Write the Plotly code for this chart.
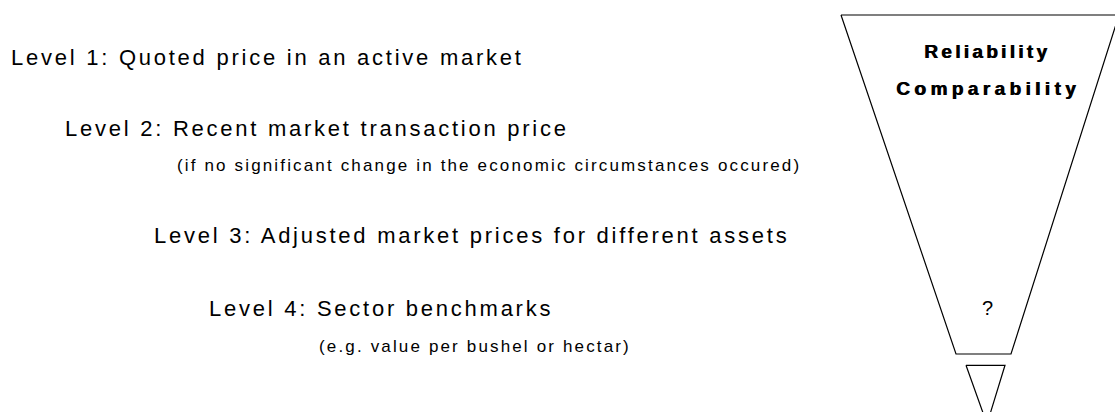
import plotly.graph_objects as go

# ---- content ----
level_labels = [
    "Level 1: Quoted price in an active market",
    "Level 2: Recent market transaction price",
    "Level 3: Adjusted market prices for different assets",
    "Level 4: Sector benchmarks",
]
level_notes = [
    "(if no significant change in the economic circumstances occured)",
    "(e.g. value per bushel or hectar)",
]
funnel_titles = ["Reliability", "Comparability"]
funnel_mark = "?"

# ---- layout geometry (pixel space of the 1115x412 canvas) ----
W, H = 1115, 412
level_x = [11, 65, 154, 209]
level_y = [57.5, 128, 235, 308]
note_x = [177, 319]
note_y = [165, 346]
title_x = [987, 988]
title_y = [51, 88]
title_spacing = [3.3, 4.4]

funnel_x = [841, 1119, 1011, 956, 841]
funnel_y = [15, 15, 354, 354, 15]
tip_x = [966, 1005, 987, 966]
tip_y = [365.3, 365.3, 424, 365.3]

FONT = "Liberation Sans, Arial, sans-serif"

fig = go.Figure()
fig.add_trace(go.Scatter(x=funnel_x, y=funnel_y, mode="lines",
                         line=dict(color="black", width=1.2),
                         hoverinfo="skip", showlegend=False))
fig.add_trace(go.Scatter(x=tip_x, y=tip_y, mode="lines",
                         line=dict(color="black", width=1.2),
                         hoverinfo="skip", showlegend=False))

annotations = []
for t, x, y in zip(level_labels, level_x, level_y):
    annotations.append(dict(
        x=x, y=y, xref="x", yref="y", xanchor="left", yanchor="middle",
        text=f'<span style="letter-spacing:2.75px">{t}</span>',
        showarrow=False, borderpad=0, borderwidth=0,
        font=dict(family=FONT, size=22, color="black")))
for t, x, y in zip(level_notes, note_x, note_y):
    annotations.append(dict(
        x=x, y=y, xref="x", yref="y", xanchor="left", yanchor="middle",
        text=f'<span style="letter-spacing:2.15px">{t}</span>',
        showarrow=False, borderpad=0, borderwidth=0,
        font=dict(family=FONT, size=17, color="black")))
for t, x, y, ls in zip(funnel_titles, title_x, title_y, title_spacing):
    annotations.append(dict(
        x=x, y=y, xref="x", yref="y", xanchor="center", yanchor="middle",
        text=f'<span style="letter-spacing:{ls}px"><b>{t}</b></span>',
        showarrow=False, borderpad=0, borderwidth=0,
        font=dict(family=FONT, size=19, color="black",
                  shadow="0.8px 0px 0px black")))
annotations.append(dict(
    x=987, y=308, xref="x", yref="y", xanchor="center", yanchor="middle",
    text=funnel_mark, showarrow=False, borderpad=0, borderwidth=0,
    font=dict(family=FONT, size=20, color="black")))

fig.update_layout(
    width=W, height=H,
    margin=dict(l=0, r=0, t=0, b=0),
    paper_bgcolor="white", plot_bgcolor="white",
    xaxis=dict(range=[0, W], visible=False, fixedrange=True),
    yaxis=dict(range=[H, 0], visible=False, fixedrange=True),
    annotations=annotations,
    hovermode=False,
    showlegend=False,
)

fig.write_html("out.html", config={"displayModeBar": False},
               post_script="document.body.style.margin='0';")
